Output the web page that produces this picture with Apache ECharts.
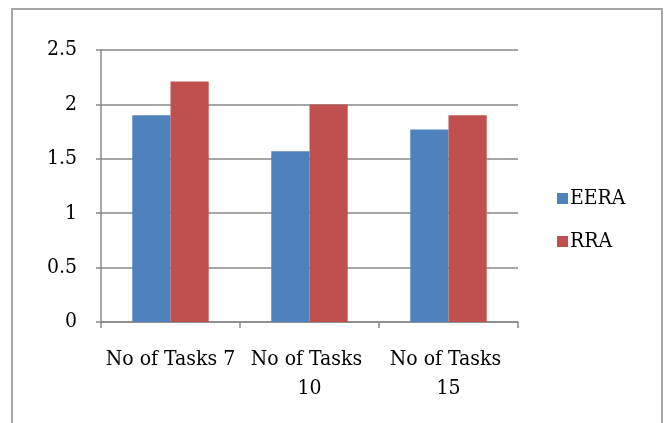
<!DOCTYPE html>
<html>
<head>
<meta charset="utf-8">
<script src="https://cdn.jsdelivr.net/npm/echarts@6/dist/echarts.min.js"></script>
<style>
html,body{margin:0;padding:0;background:#fff;}
#chart{width:668px;height:423px;}
</style>
</head>
<body>
<div id="chart"></div>
<script>
const categories = ["No of Tasks 7", "No of Tasks 10", "No of Tasks 15"];
const eeraValues = [1.9, 1.57, 1.77];
const rraValues = [2.21, 2.0, 1.9];
const seriesNames = ["EERA", "RRA"];

const FONT = "'DejaVu Serif Condensed', 'DejaVu Serif', serif";
const chart = echarts.init(document.getElementById('chart'));
chart.setOption({
  backgroundColor: '#fff',
  animation: false,
  graphic: [{
    type: 'rect',
    shape: { x: 12, y: 9, width: 650, height: 430 },
    style: { fill: 'none', stroke: '#a6a6a6', lineWidth: 2 },
    silent: true
  }],
  legend: {
    orient: 'vertical',
    left: 552,
    top: 183,
    itemWidth: 11,
    itemHeight: 11,
    itemGap: 22,
    icon: 'rect',
    textStyle: { fontFamily: FONT, fontSize: 21, color: '#000', padding: [0, 0, 0, -3] },
    data: seriesNames
  },
  grid: { left: 101, right: 150, top: 50, bottom: 101, containLabel: false },
  xAxis: {
    type: 'category',
    data: categories,
    axisLine: { lineStyle: { color: '#888', width: 1.5 } },
    axisTick: { show: true, length: 6, alignWithLabel: false, lineStyle: { color: '#888', width: 1.5 } },
    axisLabel: {
      fontFamily: FONT, fontSize: 21, color: '#000', margin: 23,
      width: 136, overflow: 'break', lineHeight: 29, interval: 0
    }
  },
  yAxis: {
    type: 'value',
    min: 0, max: 2.5, interval: 0.5,
    axisLine: { show: true, lineStyle: { color: '#888', width: 1.5 } },
    axisTick: { show: true, length: 5, lineStyle: { color: '#888', width: 1.5 } },
    axisLabel: { fontFamily: FONT, fontSize: 21, color: '#000', margin: 24 },
    splitLine: { show: true, lineStyle: { color: '#888', width: 1.5 } }
  },
  series: [
    { name: seriesNames[0], type: 'bar', data: eeraValues, barGap: '0%', barCategoryGap: '45%',
      itemStyle: { color: '#4F81BD' } },
    { name: seriesNames[1], type: 'bar', data: rraValues, barGap: '0%', barCategoryGap: '45%',
      itemStyle: { color: '#C0504D' } }
  ]
});
</script>
</body>
</html>
